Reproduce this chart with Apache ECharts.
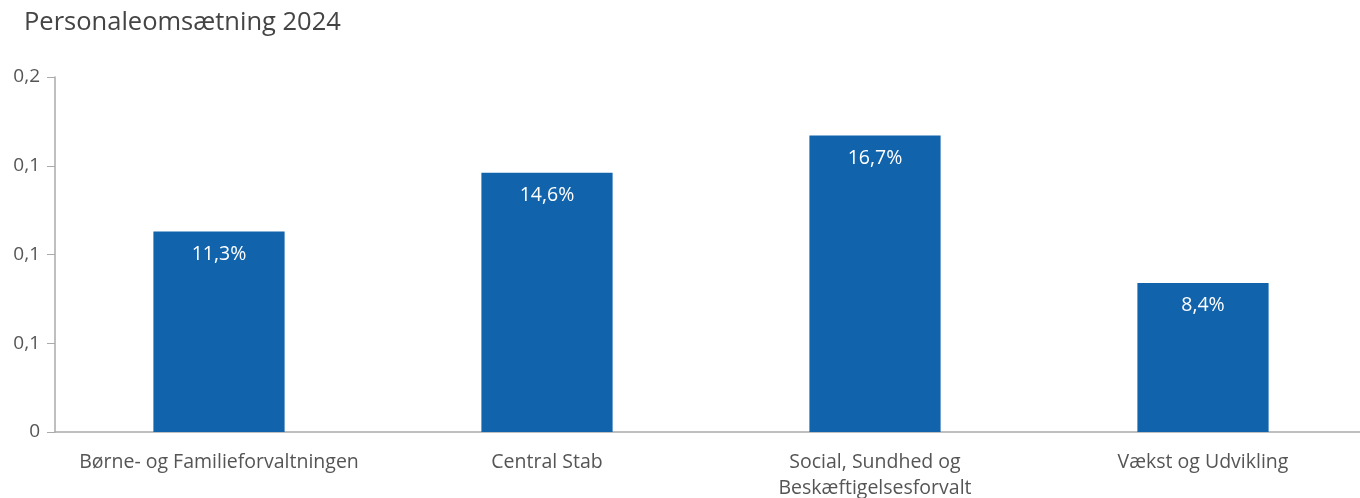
<!DOCTYPE html>
<html>
<head>
<meta charset="utf-8">
<script src="https://cdn.jsdelivr.net/npm/echarts@6/dist/echarts.min.js"></script>
<style>
  html, body { margin: 0; padding: 0; background: #fff; }
  #chart { width: 1360px; height: 498px; }
</style>
</head>
<body>
<div id="chart"></div>
<script>
// Personnel turnover per administration, 2024
const categories = [
  'Børne- og Familieforvaltningen',
  'Central Stab',
  'Social, Sundhed og\nBeskæftigelsesforvalt',
  'Vækst og Udvikling'
];
const turnover = [0.113, 0.146, 0.167, 0.084];
const yTickLabels = ['0', '0,1', '0,1', '0,1', '0,2'];

const FONT = '"Open Sans", "Noto Sans", sans-serif';

const chart = echarts.init(document.getElementById('chart'), null, { renderer: 'canvas' });
chart.setOption({
  animation: false,
  title: {
    text: 'Personaleomsætning 2024',
    left: 19,
    top: 5,
    textStyle: { fontFamily: FONT, fontSize: 25.5, fontWeight: 'normal', color: '#444' }
  },
  grid: {
    left: 55, top: 77, bottom: 66, width: 1312,
    containLabel: false,
    outerBoundsMode: 'none'
  },
  xAxis: {
    type: 'category',
    data: categories,
    axisLine: { lineStyle: { color: '#aaa', width: 1.5 } },
    axisTick: { alignWithLabel: true, length: 7, lineStyle: { color: '#aaa' } },
    axisLabel: {
      fontFamily: FONT, fontSize: 19.5, color: '#555', margin: 17, lineHeight: 26,
      interval: 0
    }
  },
  yAxis: {
    type: 'value',
    min: 0,
    max: 0.2,
    interval: 0.05,
    splitLine: { show: false },
    axisLine: { show: true, lineStyle: { color: '#aaa', width: 1.5 } },
    axisTick: { show: true, length: 8, lineStyle: { color: '#aaa' } },
    axisLabel: {
      fontFamily: FONT, fontSize: 19, color: '#555', margin: 15,
      formatter: (v, i) => yTickLabels[i]
    }
  },
  series: [{
    type: 'bar',
    data: turnover,
    barWidth: '40%',
    itemStyle: { color: '#1163AC' },
    label: {
      show: true,
      position: 'insideTop',
      distance: 13,
      color: '#fff',
      fontFamily: FONT,
      fontSize: 19.5,
      formatter: p => (p.value * 100).toFixed(1).replace('.', ',') + '%'
    }
  }]
});
</script>
</body>
</html>
